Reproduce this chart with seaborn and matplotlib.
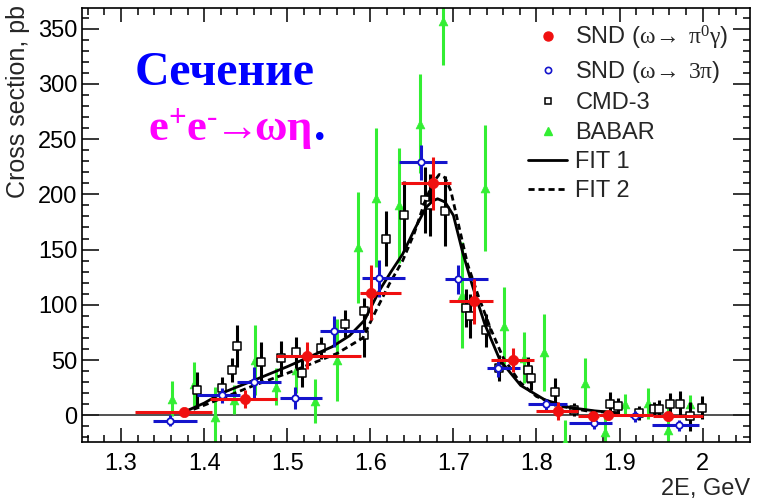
import numpy as np
import pandas as pd
import matplotlib
matplotlib.use('Agg')
import matplotlib.pyplot as plt
import seaborn as sns
from matplotlib.lines import Line2D
from matplotlib.ticker import MultipleLocator

# ---------------- data ----------------
# SND (omega -> pi0 gamma)
snd_g_x = [1.376, 1.449, 1.524, 1.601, 1.675, 1.725, 1.772, 1.826, 1.868, 1.886, 1.958]
snd_g_y = [3, 14.5, 54, 111, 210, 103, 50, 4, -1, 0, -1]
snd_g_yerr = [4, 8, 12, 25, 24, 20, 11, 8, 4, 4, 4]
snd_g_xlo = [1.317, 1.407, 1.487, 1.587, 1.637, 1.695, 1.745, 1.800, 1.850, 1.875, 1.940]
snd_g_xhi = [1.409, 1.488, 1.589, 1.637, 1.697, 1.748, 1.797, 1.850, 1.875, 1.940, 2.000]

# SND (omega -> 3pi)
snd_3_x = [1.359, 1.421, 1.460, 1.509, 1.556, 1.610, 1.661, 1.706, 1.754, 1.811, 1.869, 1.919, 1.972]
snd_3_y = [-5, 18, 30, 16, 76, 124, 229, 123, 43, 10, -7, -1, -9]
snd_3_yerr = [5, 7, 14, 10, 14, 17, 16, 13, 8, 5, 5, 5, 5]
snd_3_xlo = [1.338, 1.392, 1.440, 1.491, 1.540, 1.590, 1.635, 1.690, 1.741, 1.790, 1.839, 1.913, 1.939]
snd_3_xhi = [1.392, 1.443, 1.493, 1.542, 1.593, 1.642, 1.692, 1.742, 1.780, 1.837, 1.891, 1.926, 1.996]

# CMD-3
cmd_x = [1.392, 1.421, 1.433, 1.440, 1.469, 1.492, 1.511, 1.518, 1.541, 1.569, 1.592, 1.593,
         1.619, 1.641, 1.666, 1.672, 1.690, 1.715, 1.720, 1.739, 1.755, 1.790, 1.794, 1.822,
         1.845, 1.889, 1.898, 1.923, 1.941, 1.948, 1.961, 1.973, 1.985, 1.999]
cmd_y = [23, 25, 41, 63, 48, 52, 57, 38, 61, 83, 73, 94,
         160, 181, 195, 190, 185, 97, 90, 77, 43, 41, 34, 21,
         5, 10, 8, 2, 6, 6, 10, 10, -1, 7]
cmd_yerr = [16, 10, 11, 19, 18, 15, 14, 12, 10, 12, 20, 12,
            25, 31, 30, 28, 32, 17, 20, 15, 12, 12, 11, 13,
            6, 11, 8, 6, 6, 8, 10, 12, 13, 10]

# BABAR
babar_x = [1.361, 1.388, 1.413, 1.436, 1.461, 1.486, 1.511, 1.534, 1.560, 1.585, 1.607, 1.635, 1.660,
           1.687, 1.710, 1.738, 1.761, 1.785, 1.809, 1.834, 1.859, 1.883, 1.907, 1.934, 1.958, 1.985]
babar_y = [15, 28, -2, 14, 50, 26, 41, 13, 50, 152, 197, 190, 264,
           357, 109, 206, 81, 52, 57, -24, 29, -15, 10, 11, -13, 10]
babar_yerr = [16, 20, 28, 13, 32, 17, 21, 20, 37, 50, 63, 52, 45,
              40, 48, 57, 35, 23, 35, 20, 23, 20, 9, 14, 20, 8]

# FIT 1 (solid)
fit1_x = [1.376, 1.400, 1.421, 1.461, 1.500, 1.524, 1.554, 1.575, 1.593, 1.611, 1.625, 1.639,
          1.653, 1.667, 1.675, 1.681, 1.690, 1.700, 1.711, 1.723, 1.738, 1.756, 1.781, 1.810,
          1.840, 1.870, 1.900]
fit1_y = [3, 11, 20, 32, 44, 52, 62, 72, 86, 113, 130, 146,
          168, 188, 194, 196, 193, 181, 148, 117, 82, 50, 27, 14,
          7, 4, 2]

# FIT 2 (dashed)
fit2_x = [1.376, 1.420, 1.460, 1.500, 1.527, 1.560, 1.591, 1.607, 1.623, 1.639, 1.653, 1.665,
          1.675, 1.683, 1.690, 1.697, 1.707, 1.717, 1.730, 1.745, 1.760, 1.780, 1.800, 1.830,
          1.860, 1.900]
fit2_y = [2, 15, 27, 38, 46, 56, 70, 95, 119, 140, 165, 192,
          210, 218, 215, 203, 170, 137, 108, 78, 52, 30, 17, 8,
          4, 2]

legend_labels = [r"SND ($\mathrm{\omega\!\rightarrow\ \pi^{0}\gamma}$)",
                 r"SND ($\mathrm{\omega\!\rightarrow\ 3\pi}$)",
                 "CMD-3", "BABAR", "FIT 1", "FIT 2"]

# ---------------- style ----------------
sns.set_style('ticks')
plt.rcParams['font.family'] = ['Liberation Sans', 'DejaVu Sans']
plt.rcParams['mathtext.fontset'] = 'custom'
plt.rcParams['mathtext.rm'] = 'Liberation Serif'
plt.rcParams['mathtext.it'] = 'Liberation Serif:italic'
plt.rcParams['mathtext.bf'] = 'Liberation Serif:bold'

RED = '#f01010'
BLUE = '#1414cc'
GREEN = '#33ee33'
BLACK = '#000000'
FS = 17

fig = plt.figure(figsize=(7.58, 4.99), dpi=100)
ax = fig.add_axes([82 / 758, 1 - 442 / 499, 668 / 758, 434 / 499])

ax.axhline(0, color='#222222', lw=1.1, zorder=1)

# BABAR
ax.errorbar(babar_x, babar_y, yerr=babar_yerr, fmt='none', ecolor=GREEN, elinewidth=2.2,
            capsize=0, zorder=2)
sns.scatterplot(x=babar_x, y=babar_y, marker='^', s=40, color=GREEN, edgecolor=GREEN,
                linewidth=0.5, ax=ax, zorder=3, legend=False)

# CMD-3
ax.errorbar(cmd_x, cmd_y, yerr=cmd_yerr, fmt='none', ecolor=BLACK, elinewidth=2.2,
            capsize=0, zorder=4)
sns.scatterplot(x=cmd_x, y=cmd_y, marker='s', s=26, color='white', edgecolor=BLACK,
                linewidth=1.1, ax=ax, zorder=5, legend=False)

# fits
fits = pd.DataFrame({'x': fit1_x + fit2_x, 'y': fit1_y + fit2_y,
                     'fit': ['FIT 1'] * len(fit1_x) + ['FIT 2'] * len(fit2_x)})
sns.lineplot(data=fits, x='x', y='y', hue='fit', style='fit',
             palette={'FIT 1': BLACK, 'FIT 2': BLACK},
             dashes={'FIT 1': (1, 0), 'FIT 2': (2.2, 1.4)},
             linewidth=2.0, ax=ax, legend=False, zorder=6, sort=True, estimator=None)

# SND 3pi
b_x = np.array(snd_3_x)
ax.errorbar(snd_3_x, snd_3_y, yerr=snd_3_yerr,
            xerr=[b_x - np.array(snd_3_xlo), np.array(snd_3_xhi) - b_x],
            fmt='none', ecolor=BLUE, elinewidth=2.2, capsize=0, zorder=7)
sns.scatterplot(x=snd_3_x, y=snd_3_y, marker='o', s=22, color='white', edgecolor=BLUE,
                linewidth=1.3, ax=ax, zorder=8, legend=False)

# SND pi0 gamma
r_x = np.array(snd_g_x)
ax.errorbar(snd_g_x, snd_g_y, yerr=snd_g_yerr,
            xerr=[r_x - np.array(snd_g_xlo), np.array(snd_g_xhi) - r_x],
            fmt='none', ecolor=RED, elinewidth=2.2, capsize=0, zorder=9)
sns.scatterplot(x=snd_g_x, y=snd_g_y, marker='o', s=55, color=RED, edgecolor=RED,
                linewidth=0.5, ax=ax, zorder=10, legend=False)

# ---------------- axes ----------------
ax.set_xlim(1.253, 2.057)
ax.set_ylim(-24.2, 368.7)
ax.xaxis.set_minor_locator(MultipleLocator(0.02))
ax.yaxis.set_minor_locator(MultipleLocator(10))
ax.set_xticks([1.3, 1.4, 1.5, 1.6, 1.7, 1.8, 1.9, 2.0])
ax.set_xticklabels(['1.3', '1.4', '1.5', '1.6', '1.7', '1.8', '1.9', '2'])
ax.set_yticks([0, 50, 100, 150, 200, 250, 300, 350])
ax.set_yticklabels(['0', '50', '100', '150', '200', '250', '300', '350'])

ax.tick_params(which='both', direction='in', top=True, right=True, width=1.1, color='black',
               labelsize=FS, labelcolor='black')
ax.tick_params(axis='x', which='major', length=10, pad=8.0)
ax.tick_params(axis='x', which='minor', length=5)
ax.tick_params(axis='y', which='major', length=12, pad=3.5)
ax.tick_params(axis='y', which='minor', length=5)
for sp in ax.spines.values():
    sp.set_linewidth(1.2)
    sp.set_color('black')
    sp.set_visible(True)

ax.set_xlabel('2E, GeV', fontsize=FS, loc='right')
ax.xaxis.set_label_coords(1.0, -0.083)
ax.set_ylabel('Cross section, pb', fontsize=18, loc='top')
ax.yaxis.set_label_coords(-0.078, 1.008)

# ---------------- titles ----------------
ax.text(0.0793, 0.8226, 'Сечение', transform=ax.transAxes, fontsize=34.5, fontweight='bold',
        family=['Liberation Serif', 'DejaVu Serif'], color='#0000ff', ha='left', va='baseline',
        zorder=12)
t2 = ax.text(0.0988, 0.695, r'$\mathbf{e^{+}e^{\text{-}}\!\!\rightarrow\!\!\omega\eta}$',
             transform=ax.transAxes, fontsize=32, color='#ff00ff', ha='left', va='baseline',
             zorder=12)
fig.canvas.draw()
bb = t2.get_window_extent()
dot_x = ax.transAxes.inverted().transform((bb.x1 + 2, 0))[0]
ax.text(dot_x, 0.695, '.', transform=ax.transAxes, fontsize=33, fontweight='bold',
        family=['Liberation Serif', 'DejaVu Serif'], color='#0000ff', ha='left', va='baseline',
        zorder=12)

# ---------------- legend ----------------
handles = [
    Line2D([], [], ls='none', marker='o', ms=6.5, mfc=RED, mec=RED),
    Line2D([], [], ls='none', marker='o', ms=4.5, mfc='white', mec=BLUE, mew=1.2),
    Line2D([], [], ls='none', marker='s', ms=4.5, mfc='white', mec=BLACK, mew=1.1),
    Line2D([], [], ls='none', marker='^', ms=6, mfc=GREEN, mec=GREEN),
    Line2D([], [], color=BLACK, lw=2.0),
    Line2D([], [], color=BLACK, lw=2.0, ls=(0, (2.2, 1.4))),
]
leg = ax.legend(handles, legend_labels, loc='upper left', bbox_to_anchor=(0.668, 0.964),
                frameon=False, fontsize=FS, handlelength=1.65, handletextpad=0.35,
                labelspacing=0.31, borderpad=0, borderaxespad=0)

fig.savefig('out.png', dpi=100)
